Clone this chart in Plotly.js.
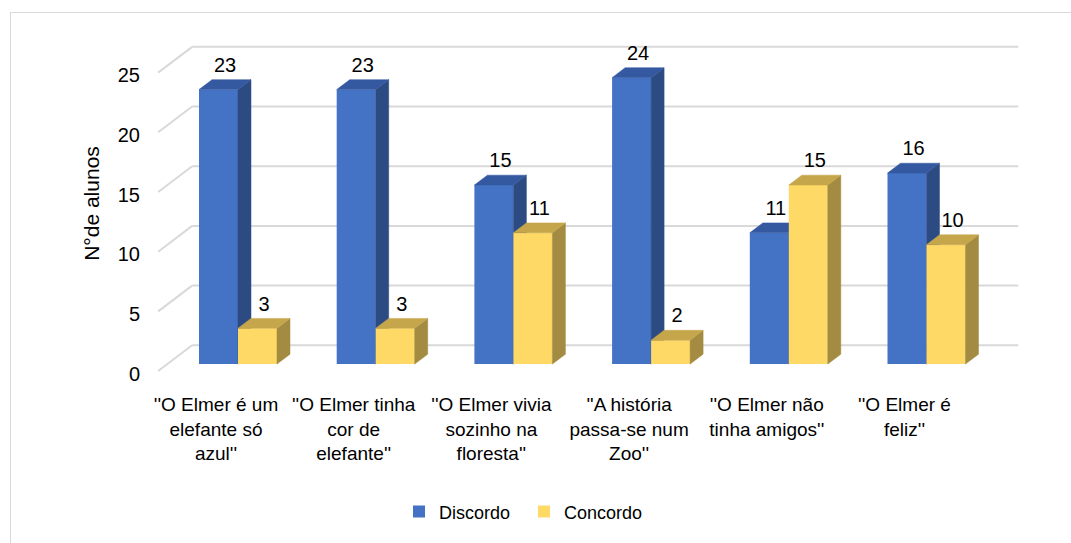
<!DOCTYPE html>
<html>
<head>
<meta charset="utf-8">
<script src="https://cdn.plot.ly/plotly-3.0.1.min.js"></script>
<style>
  html, body { margin: 0; padding: 0; background: #ffffff; }
  #wrap { position: relative; width: 1071px; height: 543px; overflow: hidden; }
  #frame { position: absolute; left: 10px; top: 12px; width: 1100px; height: 600px;
           border-left: 1px solid #D9D9D9; border-top: 1px solid #D9D9D9; pointer-events: none; }
  #chart { position: absolute; left: 0; top: 0; width: 1071px; height: 543px; }
</style>
</head>
<body>
<div id="wrap">
  <div id="chart"></div>
  <div id="frame"></div>
</div>
<script>
// ---- data ----
const categories = [
  "''O Elmer é um<br>elefante só<br>azul''",
  "''O Elmer tinha<br>cor de<br>elefante''",
  "''O Elmer vivia<br>sozinho na<br>floresta''",
  "''A história<br>passa-se num<br>Zoo''",
  "''O Elmer não<br>tinha amigos''",
  "''O Elmer é<br>feliz''"
];
const discordo = [23, 23, 15, 24, 11, 16];
const concordo = [3, 3, 11, 2, 15, 10];
const yTicks = [0, 5, 10, 15, 20, 25];
const seriesNames = ["Discordo", "Concordo"];

// ---- styling / geometry (pixel-derived constants) ----
const PX_CAT = 137.7, PX_UNIT = 12.04;
const BAR_W = 39 / PX_CAT;
const OFF_1 = -37 / PX_CAT;
const OFF_2 = OFF_1 + BAR_W;
const DDX = 13 / PX_CAT, DDY = 10 / PX_UNIT;     // bar depth
const BDX = 25 / PX_CAT, BDY = 19 / PX_UNIT;     // back wall offset
const FDX = -9 / PX_CAT, FDY = -7 / PX_UNIT;     // front plane offset
const TICK_SHIFT = -0.8;                          // tick labels on front plane
const LABEL_DY = 23 / PX_UNIT;

const FONT = "'Liberation Sans', Arial, sans-serif";
const colors = {
  front: ["#4472C4", "#FFD966"],
  side:  ["#2C4B82", "#A38B41"],
  top:   ["#3459A0", "#C5A64B"]
};
const GRID = "#D9D9D9";

const idx = categories.map((_, i) => i);

function faces(vals, off) {
  const sx = [], sy = [], tx = [], ty = [];
  vals.forEach((v, i) => {
    const xl = i + off, xr = xl + BAR_W;
    sx.push(xr, xr + DDX, xr + DDX, xr, xr, null);
    sy.push(0, DDY, v + DDY, v, 0, null);
    tx.push(xl, xl + DDX, xr + DDX, xr, xl, null);
    ty.push(v, v + DDY, v + DDY, v, v, null);
  });
  return { sx, sy, tx, ty };
}

function seriesTraces(vals, off, k, yaxis) {
  const f = faces(vals, off);
  return [
    { type: "bar", name: seriesNames[k], x: idx, y: vals, width: BAR_W, offset: off,
      yaxis: yaxis, marker: { color: colors.front[k], line: { width: 0 } },
      hoverinfo: "skip" },
    { type: "scatter", mode: "lines", x: f.sx, y: f.sy, fill: "toself", yaxis: yaxis,
      fillcolor: colors.side[k], line: { width: 0.5, color: colors.side[k] },
      showlegend: false, hoverinfo: "skip" },
    { type: "scatter", mode: "lines", x: f.tx, y: f.ty, fill: "toself", yaxis: yaxis,
      fillcolor: colors.top[k], line: { width: 0.5, color: colors.top[k] },
      showlegend: false, hoverinfo: "skip" }
  ];
}

function labelTrace(vals, off, yaxis) {
  return {
    type: "scatter", mode: "text", yaxis: yaxis,
    x: vals.map((v, i) => i + off + BAR_W / 2 + DDX / 2),
    y: vals.map(v => v + LABEL_DY),
    text: vals.map(v => String(v)),
    textposition: "middle center",
    textfont: { family: FONT, size: 20, color: "#000000" },
    showlegend: false, hoverinfo: "skip", cliponaxis: false
  };
}

const traces = []
  .concat(seriesTraces(discordo, OFF_1, 0, "y"))
  .concat(seriesTraces(concordo, OFF_2, 1, "y2"))
  .concat([labelTrace(discordo, OFF_1, "y2"), labelTrace(concordo, OFF_2, "y2")]);

// back wall gridlines + front diagonals
const xFirst = -0.5, xLast = categories.length - 0.5;
const shapes = [];
yTicks.forEach(v => {
  shapes.push({ type: "line", xref: "x", yref: "y", layer: "below",
    x0: xFirst + BDX, x1: xLast + BDX, y0: v + BDY, y1: v + BDY,
    line: { color: GRID, width: 2 } });
  shapes.push({ type: "line", xref: "x", yref: "y", layer: "below",
    x0: xFirst + FDX, x1: xFirst + BDX, y0: v + FDY, y1: v + BDY,
    line: { color: GRID, width: 2 } });
});

const L = 145, R = 1030, T = 30, B = 380;
const xr0 = (L - 236) / PX_CAT, xr1 = (R - 236) / PX_CAT;
const yr0 = (367 - B) / PX_UNIT, yr1 = (367 - T) / PX_UNIT;

const layout = {
  width: 1071, height: 543,
  margin: { l: L, r: 1071 - R, t: T, b: 543 - B },
  paper_bgcolor: "rgba(0,0,0,0)", plot_bgcolor: "rgba(0,0,0,0)",
  font: { family: FONT, size: 18, color: "#000000" },
  barmode: "overlay",
  showlegend: true,
  legend: { orientation: "h", x: (524 - L) / (R - L), xanchor: "center",
            y: (B - 516) / (B - T), yanchor: "middle",
            font: { family: FONT, size: 18, color: "#000000" },
            entrywidth: 80,
            itemclick: false, itemdoubleclick: false },
  xaxis: { range: [xr0, xr1], tickvals: idx, ticktext: categories, tickangle: 0,
           showgrid: false, zeroline: false, showline: false, ticks: "",
           ticklabelshift: -20, ticklabelstandoff: 14,
           tickfont: { family: FONT, size: 19, color: "#000000" }, fixedrange: true },
  yaxis: { range: [yr0, yr1], tickvals: yTicks.map(v => v + TICK_SHIFT), ticktext: yTicks.map(String),
           showgrid: false, zeroline: false, showline: false, ticks: "",
           ticklabelstandoff: 4,
           tickfont: { family: FONT, size: 20, color: "#000000" },
           title: { text: "N°de alunos", font: { family: FONT, size: 21, color: "#000000" }, standoff: 12 },
           fixedrange: true },
  yaxis2: { range: [yr0, yr1], overlaying: "y", visible: false, fixedrange: true },
  shapes: shapes
};

Plotly.newPlot("chart", traces, layout, { displayModeBar: false, staticPlot: true });
</script>
</body>
</html>
